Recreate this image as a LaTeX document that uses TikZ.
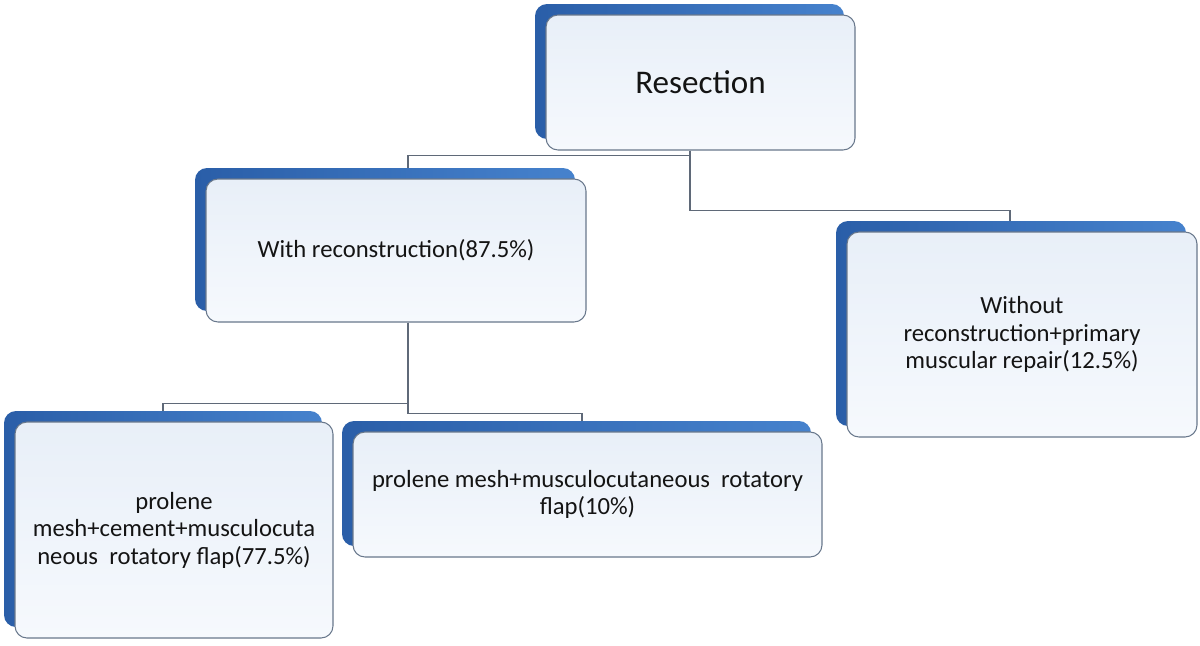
\documentclass[tikz,border=0pt]{standalone}
\usepackage{fontspec}
\setmainfont{Carlito}
\usetikzlibrary{calc,shadows}
\definecolor{blockfill}{RGB}{232,239,248}
\definecolor{blockfoot}{RGB}{246,249,253}
\definecolor{blockline}{RGB}{105,120,140}
\definecolor{backblue}{RGB}{70,130,205}
\definecolor{backdark}{RGB}{42,94,168}
\definecolor{linkgray}{RGB}{95,105,120}
\definecolor{inktext}{RGB}{20,20,20}

\begin{document}
\begin{tikzpicture}[
	x=0.75pt, y=-0.75pt,
	block/.style={
		rectangle,
		rounded corners=9pt,
		draw=blockline,
		line width=0.8pt,
		top color=blockfill,
		bottom color=blockfoot,
		general shadow={shadow xshift=-8.25pt, shadow yshift=8.25pt,
			left color=backdark, right color=backblue},
		inner sep=0pt,
		align=center,
		text=inktext,
		font=\fontsize{18.5}{20.6}\selectfont},
	link/.style={draw=linkgray, line width=0.8pt}
	]
	\fill[white] (0,0) rectangle (1200,646);
	\path[use as bounding box] (0,0) rectangle (1200,646);

	\node[block, minimum width=231.75pt, minimum height=101.25pt,
		font=\fontsize{24.8}{28}\selectfont] (res) at (700.5,82.5) {Resection};
	\node[block, minimum width=285pt, minimum height=107.25pt] (with) at (396,250.5)
		{With reconstruction(87.5\%)};
	\node[block, minimum width=262.5pt, minimum height=153.75pt] (wo) at (1022,334.5)
		{Without\\reconstruction+primary\\muscular repair(12.5\%)};
	\node[block, minimum width=238.5pt, minimum height=162pt] (mesh1) at (174,530)
		{prolene\\mesh+cement+musculocuta\\neous~~rotatory flap(77.5\%)};
	\node[block, minimum width=351.75pt, minimum height=93.75pt] (mesh2) at (587.5,494.5)
		{prolene mesh+musculocutaneous~~rotatory\\flap(10\%)};

 \foreach \from/\fx/\down/\to/\tx in {% parent/offset/drop/child/offset
	res/-10.5/5/with/12,
	res/-10.5/60/wo/-12,
	with/12/81/mesh1/-11,
	with/12/91/mesh2/-5.5}
	 \draw [link] ($(\from.south)+(\fx,0)$) -- ++(0,\down) -| ($(\to.north)+(\tx,-10.5)$);
\end{tikzpicture}
\end{document}
